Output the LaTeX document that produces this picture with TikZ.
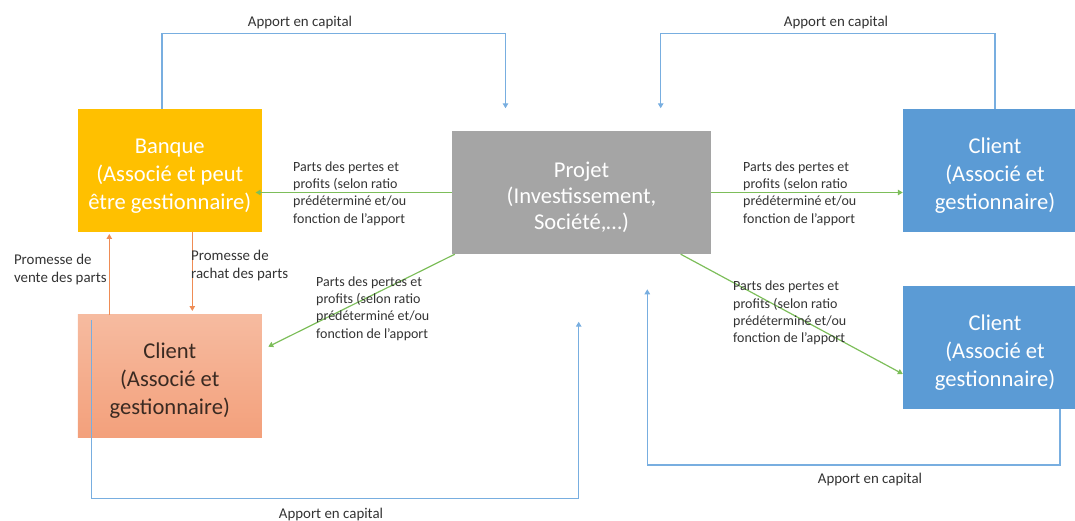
\documentclass[tikz,border=0pt]{standalone}
\usepackage{fontspec}
\setmainfont{Carlito}
\usetikzlibrary{arrows.meta}
\definecolor{banqueC}{HTML}{FFC000}
\definecolor{projC}{HTML}{A5A5A5}
\definecolor{blueC}{HTML}{5B9BD5}
\definecolor{salmonTop}{HTML}{F6BBA0}
\definecolor{salmonBot}{HTML}{F3A07B}
\definecolor{clientTxt}{HTML}{3A2A22}
\definecolor{lineBlue}{HTML}{78AEE0}
\definecolor{lineGreen}{HTML}{7DBE5A}
\definecolor{lineOrange}{HTML}{EF8C55}
\definecolor{labTxt}{HTML}{333333}
\newcommand\boxfont{\fontsize{22.6}{28}\selectfont}
\newcommand\projfont{\fontsize{22.6}{26}\selectfont}
\newcommand\labfont{\fontsize{14}{17.3}\selectfont}
\newcommand\capfont{\fontsize{14.9}{17.3}\selectfont}
\newcommand\topstrut{\rule{0pt}{25pt}}
\begin{document}
\begin{tikzpicture}[x=1pt,y=-1pt,
  boxnode/.style={rectangle, minimum width=184pt, minimum height=123pt, inner sep=0pt, align=center, font=\boxfont, text=white},
  partlab/.style={anchor=west, align=left, inner sep=0pt, font=\labfont, text=labTxt},
  caplab/.style={inner sep=0pt, font=\capfont, text=labTxt},
  promlab/.style={anchor=west, align=left, inner sep=0pt, font=\capfont, text=labTxt},
  tip/.tip={Triangle[length=5pt,width=5.5pt]},
  capline/.style={draw=lineBlue, line width=1.2pt, -tip},
  partline/.style={draw=lineGreen, line width=1.2pt, -tip},
  promline/.style={draw=lineOrange, line width=1.2pt, -tip}]
\useasboundingbox (0,0) rectangle (1075,521);
\clip (0,0) rectangle (1075,521);

% boxes
\node[boxnode, fill=banqueC] (banque) at (169.75,170.7) {\topstrut Banque\\(Associé et peut\\être gestionnaire)};
\node[boxnode, top color=salmonTop, bottom color=salmonBot, text=clientTxt] (clientL) at (169.75,376.3) {\topstrut Client\\(Associé et\\gestionnaire)};
\node[boxnode, fill=projC, minimum width=259pt, font=\projfont] (projet) at (581.5,192.5) {\topstrut Projet\\(Investissement,\\Société,…)};
\node[boxnode, fill=blueC] (clientTR) at (995,170.8) {\topstrut Client\\(Associé et\\gestionnaire)};
\node[boxnode, fill=blueC] (clientBR) at (995,347.7) {\topstrut Client\\(Associé et\\gestionnaire)};

% free ends of capital connectors
\coordinate (capA) at (505.5,33.3);
\coordinate (tipA) at (505.5,108.3);
\coordinate (capB) at (660.7,33.3);
\coordinate (tipB) at (660.7,108.3);
\coordinate (capC) at (578.7,498.3);
\coordinate (tipC) at (578.7,321.7);
\coordinate (capD) at (647.3,465);
\coordinate (tipD) at (647.3,289.3);

% capital connectors
\draw[capline] ([xshift=-7.75pt]banque.north) |- (capA) -- (tipA);
\draw[capline] (clientTR.north) |- (capB) -- (tipB);
\draw[capline] ([xshift=13.95pt,yshift=-5.7pt]clientL.north west) |- (capC) -- (tipC);
\draw[capline] ([xshift=65pt]clientBR.south) |- (capD) -- (tipD);

% parts connectors
\draw[partline, shorten >=-6.3pt] (projet.west) -- (projet.west -| banque.east);
\draw[partline] (projet.east) -- (projet.east -| clientTR.west);
\draw[partline] ([xshift=3pt]projet.south west) -- ([xshift=6.3pt,yshift=29.6pt]clientL.east);
\draw[partline] ([xshift=-30.5pt]projet.south east) -- ([yshift=-26.3pt]clientBR.west);

% promesse connectors
\draw[promline, shorten >=1.6pt] ([xshift=-60.45pt]clientL.north) -- ([xshift=-60.45pt]banque.south);
\draw[promline, shorten >=3.6pt] ([xshift=22.55pt]banque.south) -- ([xshift=22.55pt]clientL.north);

% labels
\node[caplab] (apA) at (300,22.7) {Apport en capital};
\node[caplab] (apB) at (836,22.7) {Apport en capital};
\node[caplab] (apC) at (331,515) {Apport en capital};
\node[caplab] (apD) at (870,480) {Apport en capital};
\node[partlab] (pl1) at (293,193.5) {Parts des pertes et\\profits (selon ratio\\prédéterminé et/ou\\fonction de l’apport};
\node[partlab] (pl2) at (743,193.5) {Parts des pertes et\\profits (selon ratio\\prédéterminé et/ou\\fonction de l’apport};
\node[partlab] (pl3) at (316,308.5) {Parts des pertes et\\profits (selon ratio\\prédéterminé et/ou\\fonction de l’apport};
\node[partlab] (pl4) at (733,313) {Parts des pertes et\\profits (selon ratio\\prédéterminé et/ou\\fonction de l’apport};
\node[promlab] (pr1) at (13.8,269.5) {Promesse de\\vente des parts};
\node[promlab] (pr2) at (191,265.5) {Promesse de\\rachat des parts};
\end{tikzpicture}
\end{document}
